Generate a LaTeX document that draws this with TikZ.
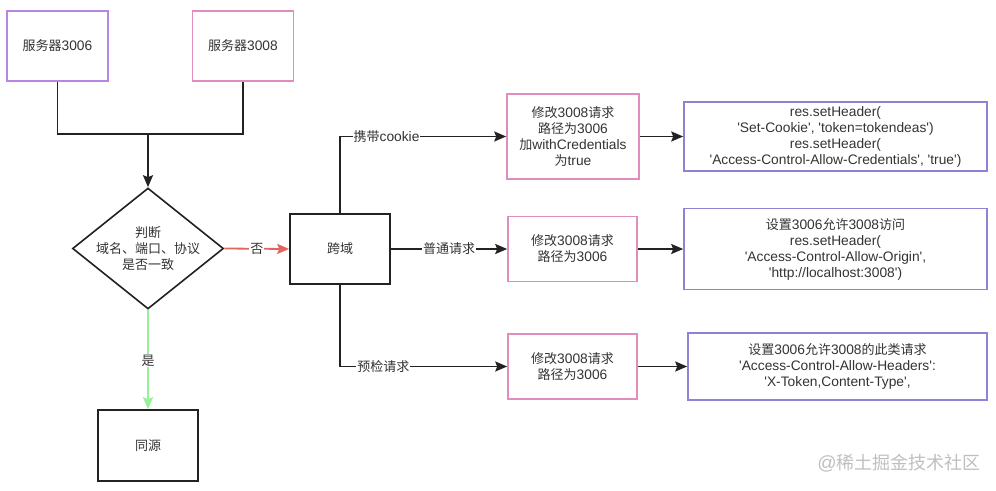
\documentclass[tikz,border=0pt]{standalone}
\usepackage{fontspec}
\setmainfont{Liberation Sans}[Ligatures=TeXOff, Scale=1.06]
\newfontfamily\cjk{Noto Sans CJK SC}
\newcommand{\zh}[1]{{\cjk #1}}
\usepackage{xcolor}
\usetikzlibrary{positioning}
\usetikzlibrary{arrows, arrows.meta, shapes.geometric}

\definecolor{lilac}{RGB}{182,134,226}
\definecolor{rosepink}{RGB}{226,140,190}
\definecolor{lavblue}{RGB}{140,130,216}
\definecolor{nored}{RGB}{226,102,96}
\definecolor{yesgreen}{RGB}{150,242,150}
\definecolor{ink}{RGB}{34,34,34}
\definecolor{txt}{RGB}{51,51,51}

\begin{document}
\begin{tikzpicture}[x=1pt, y=-1pt,
    font=\fontsize{13}{16}\selectfont,
    box/.style={draw=ink, line width=1.6pt, text=txt, align=center, inner sep=2pt},
    wire/.style={draw=ink, line width=1.8pt, -{Stealth[length=12pt, width=10pt, inset=2pt]}},
    lbl/.style={fill=white, text=txt, inner sep=1pt}]
  \useasboundingbox (0,0) rectangle (996,490);

  % servers
  \node[box, draw=lilac, minimum width=101pt, minimum height=70pt] (S3006) at (57.5,46) {\zh{服务器}3006};
  \node[box, draw=rosepink, minimum width=101pt, minimum height=70pt] (S3008) at (243,46) {\zh{服务器}3008};
  \coordinate (MERGE) at (148,134);

  % check
  \node[draw=ink, line width=1.6pt, diamond, minimum width=151pt, minimum height=121pt, inner sep=0pt] (JUDGE) at (148,248.5) {};
  \node[text=txt, align=center] (JUDGETXT) at (JUDGE.center) {\zh{判断}\\\zh{域名、端口、协议}\\\zh{是否一致}};

  \node[box, minimum width=100pt, minimum height=70pt] (CROSS) at (340,249) {\zh{跨域}};
  \node[box, minimum width=100pt, minimum height=71pt] (SAME) at (148,445.5) {\zh{同源}};

  % requests
  \node[box, draw=rosepink, minimum width=132pt, minimum height=85pt] (P1) at (573,136.5) {\zh{修改}3008\zh{请求}\\\zh{路径为}3006\\\zh{加}withCredentials\\\zh{为}true};
  \node[box, draw=rosepink, minimum width=129pt, minimum height=65pt] (P2) at (572.5,249) {\zh{修改}3008\zh{请求}\\\zh{路径为}3006};
  \node[box, draw=rosepink, minimum width=129pt, minimum height=65pt] (P3) at (572.5,366.5) {\zh{修改}3008\zh{请求}\\\zh{路径为}3006};

  % headers
  \node[box, draw=lavblue, minimum width=303pt, minimum height=69pt, inner sep=0pt] (H1) at (835.5,136.5) {res.setHeader(\\'Set-Cookie', 'token=tokendeas')\\res.setHeader(\\'Access-Control-Allow-Credentials', 'true')};
  \node[box, draw=lavblue, minimum width=303pt, minimum height=81pt] (H2) at (835.5,249) {\zh{设置}3006\zh{允许}3008\zh{访问}\\res.setHeader(\\'Access-Control-Allow-Origin',\\'http://localhost:3008')};
  \node[box, draw=lavblue, minimum width=299pt, minimum height=67pt] (H3) at (837.5,366.5) {\zh{设置}3006\zh{允许}3008\zh{的此类请求}\\'Access-Control-Allow-Headers':\\'X-Token,Content-Type',};

  % connectors
  \draw[draw=ink, line width=1.8pt] (S3006.south) |- (MERGE) -| (S3008.south);
  \draw[wire] (MERGE) -- (JUDGE.north);
  \draw[wire, draw=nored, -{Stealth[length=12pt, width=10pt, inset=2pt, fill=nored]}] (JUDGE.east) -- node[lbl, pos=0.5] {\zh{否}} (CROSS.west);
  \draw[wire, draw=yesgreen, -{Stealth[length=12pt, width=10pt, inset=2pt, fill=yesgreen]}] (JUDGE.south) -- node[lbl, pos=0.51] {\zh{是}} (SAME.north);

  \draw[wire] (CROSS.north) |- node[lbl, pos=0.64] {\zh{携带}cookie} (P1.west);
  \draw[wire] (CROSS.east) -- node[lbl, pos=0.5] {\zh{普通请求}} (P2.west);
  \draw[wire] (CROSS.south) |- node[lbl, pos=0.63] {\zh{预检请求}} (P3.west);

  \draw[wire] (P1.east) -- (H1.west);
  \draw[wire] (P2.east) -- (H2.west);
  \draw[wire] (P3.east) -- (H3.west);

  \node[text=black!25, font=\fontsize{18}{20}\selectfont] (MARK) at (899,463) {@\zh{稀土掘金技术社区}};
\end{tikzpicture}
\end{document}
